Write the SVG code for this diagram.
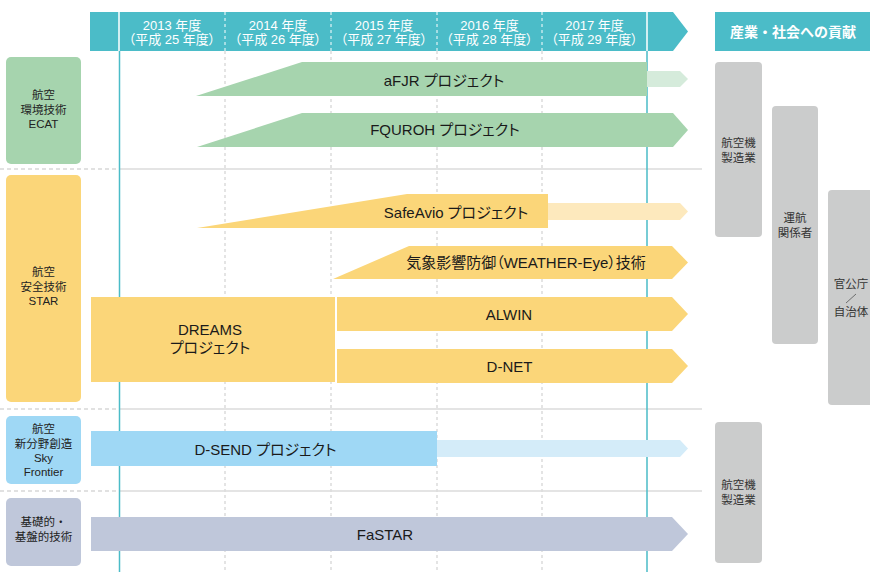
<svg xmlns="http://www.w3.org/2000/svg" width="870" height="572" viewBox="0 0 870 572">
<style>
text{font-family:"Liberation Sans","Noto Sans CJK JP",sans-serif;}
.hd{fill:#ffffff;font-size:13px;text-anchor:middle;font-feature-settings:"palt";}
.bt{fill:#1a1a1a;font-size:15px;text-anchor:middle;font-feature-settings:"palt";}
.lt{fill:#222222;font-size:11.5px;text-anchor:middle;}
.rt{fill:#333333;font-size:11.5px;text-anchor:middle;}
.grid{stroke:#c9c9c9;stroke-width:1;stroke-dasharray:3 3;fill:none;}
.sep{stroke:#dcdcdc;stroke-width:1.5;fill:none;}
.sepd{stroke:#d8d8d8;stroke-width:1.5;stroke-dasharray:4 3;fill:none;}
.teal{stroke:#4bbcc8;stroke-width:1.5;fill:none;}
.green{fill:#a6d4ae;}.lgreen{fill:#d5ebdb;}
.yel{fill:#fbd679;}.lyel{fill:#fde9bd;}
.blue{fill:#9fd8f5;}.lblue{fill:#d4ecf9;}
.gb{fill:#bfc7da;}
.gray{fill:#cbcccc;}
</style>
<rect width="870" height="572" fill="#ffffff"/>

<g id="grid">
<path class="grid" d="M225 51V572M331 51V572M437 51V572M542 51V572"/>
<path class="sepd" d="M0 169H120M0 409H120M0 491H120"/>
<path class="sep" d="M120 169H702M120 409H702M120 491H702"/>
<path class="teal" d="M119.5 51V572M647 51V572"/>
</g>

<g id="header">
<path d="M90 12H673L688 31.5L673 51H90Z" fill="#4bbcc8"/>
<path d="M119 12V51M647 12V51" stroke="#ffffff" stroke-width="1.5"/>
<path d="M225 12V51M331 12V51M437 12V51M542 12V51" stroke="#ffffff" stroke-width="1" stroke-dasharray="3 3"/>
<text class="hd" x="172" y="29.5">2013 年度<tspan x="172" dy="14.5">（平成 25 年度）</tspan></text>
<text class="hd" x="278" y="29.5">2014 年度<tspan x="278" dy="14.5">（平成 26 年度）</tspan></text>
<text class="hd" x="384" y="29.5">2015 年度<tspan x="384" dy="14.5">（平成 27 年度）</tspan></text>
<text class="hd" x="489.5" y="29.5">2016 年度<tspan x="489.5" dy="14.5">（平成 28 年度）</tspan></text>
<text class="hd" x="594.5" y="29.5">2017 年度<tspan x="594.5" dy="14.5">（平成 29 年度）</tspan></text>
<rect x="715" y="12" width="155" height="39" fill="#4bbcc8"/>
<text x="793" y="36.5" fill="#ffffff" font-size="14" font-weight="bold" text-anchor="middle">産業・社会への貢献</text>
</g>

<g id="cat-ecat">
<rect class="green" x="6" y="57" width="75" height="107" rx="5"/>
<text class="lt" x="43.5" y="99">航空<tspan x="43.5" dy="15">環境技術</tspan><tspan x="43.5" dy="14">ECAT</tspan></text>
</g>
<g id="cat-star">
<rect class="yel" x="6" y="175" width="75" height="227" rx="5"/>
<text class="lt" x="43.5" y="276">航空<tspan x="43.5" dy="15">安全技術</tspan><tspan x="43.5" dy="14">STAR</tspan></text>
</g>
<g id="cat-sky">
<rect class="blue" x="6" y="416" width="75" height="68" rx="5"/>
<text class="lt" x="43.5" y="433">航空<tspan x="43.5" dy="15">新分野創造</tspan><tspan x="43.5" dy="14">Sky</tspan><tspan x="43.5" dy="14">Frontier</tspan></text>
</g>
<g id="cat-base">
<rect class="gb" x="6" y="498" width="75" height="68" rx="5"/>
<text class="lt" x="43.5" y="526">基礎的・<tspan x="43.5" dy="15">基盤的技術</tspan></text>
</g>

<g id="bar-afjr">
<path class="lgreen" d="M647 71H680L688 79L680 87H647Z"/>
<path class="green" d="M196 96L302 62H647V96Z"/>
<text class="bt" x="444" y="86">aFJR プロジェクト</text>
</g>
<g id="bar-fquroh">
<path class="green" d="M197 147L302 113H673L688 130L673 147Z"/>
<text class="bt" x="445" y="135">FQUROH プロジェクト</text>
</g>
<g id="bar-safeavio">
<path class="lyel" d="M548 203H680L688 211.5L680 220H548Z"/>
<path class="yel" d="M197 228L407 194H548V228Z"/>
<text class="bt" x="456" y="218">SafeAvio プロジェクト</text>
</g>
<g id="bar-weather">
<path class="yel" d="M333 279L409 246H672L688 262.5L672 279Z"/>
<text class="bt" x="526" y="267.5">気象影響防御（WEATHER-Eye）技術</text>
</g>
<g id="bar-dreams">
<rect class="yel" x="91" y="297" width="244" height="85"/>
<text class="bt" x="210" y="335">DREAMS<tspan x="210" dy="18">プロジェクト</tspan></text>
</g>
<g id="bar-alwin">
<path class="yel" d="M337 297H672L688 314L672 331H337Z"/>
<text class="bt" x="509" y="319.5">ALWIN</text>
</g>
<g id="bar-dnet">
<path class="yel" d="M337 349H672L688 366L672 383H337Z"/>
<text class="bt" x="509.5" y="371.5">D-NET</text>
</g>
<g id="bar-dsend">
<path class="lblue" d="M437 440H680L688 448.5L680 457H437Z"/>
<rect class="blue" x="91" y="431" width="346" height="35"/>
<text class="bt" x="265.5" y="455">D-SEND プロジェクト</text>
</g>
<g id="bar-fastar">
<path class="gb" d="M91 517H672L688 534L672 551H91Z"/>
<text class="bt" x="385" y="539.5">FaSTAR</text>
</g>

<g id="out-manufacturing-1">
<rect class="gray" x="715" y="62" width="47" height="175" rx="4"/>
<text class="rt" x="738.5" y="147">航空機<tspan x="738.5" dy="15">製造業</tspan></text>
</g>
<g id="out-operators">
<rect class="gray" x="772" y="106" width="46" height="238" rx="4"/>
<text class="rt" x="795" y="222">運航<tspan x="795" dy="15">関係者</tspan></text>
</g>
<g id="out-government">
<rect class="gray" x="828" y="190" width="50" height="215" rx="4"/>
<text class="rt" x="851" y="288">官公庁</text>
<path d="M846 303L856 294" stroke="#555555" stroke-width="0.8"/>
<text class="rt" x="851" y="316">自治体</text>
</g>
<g id="out-manufacturing-2">
<rect class="gray" x="715" y="422" width="47" height="141" rx="4"/>
<text class="rt" x="738.5" y="489">航空機<tspan x="738.5" dy="15">製造業</tspan></text>
</g>
</svg>
